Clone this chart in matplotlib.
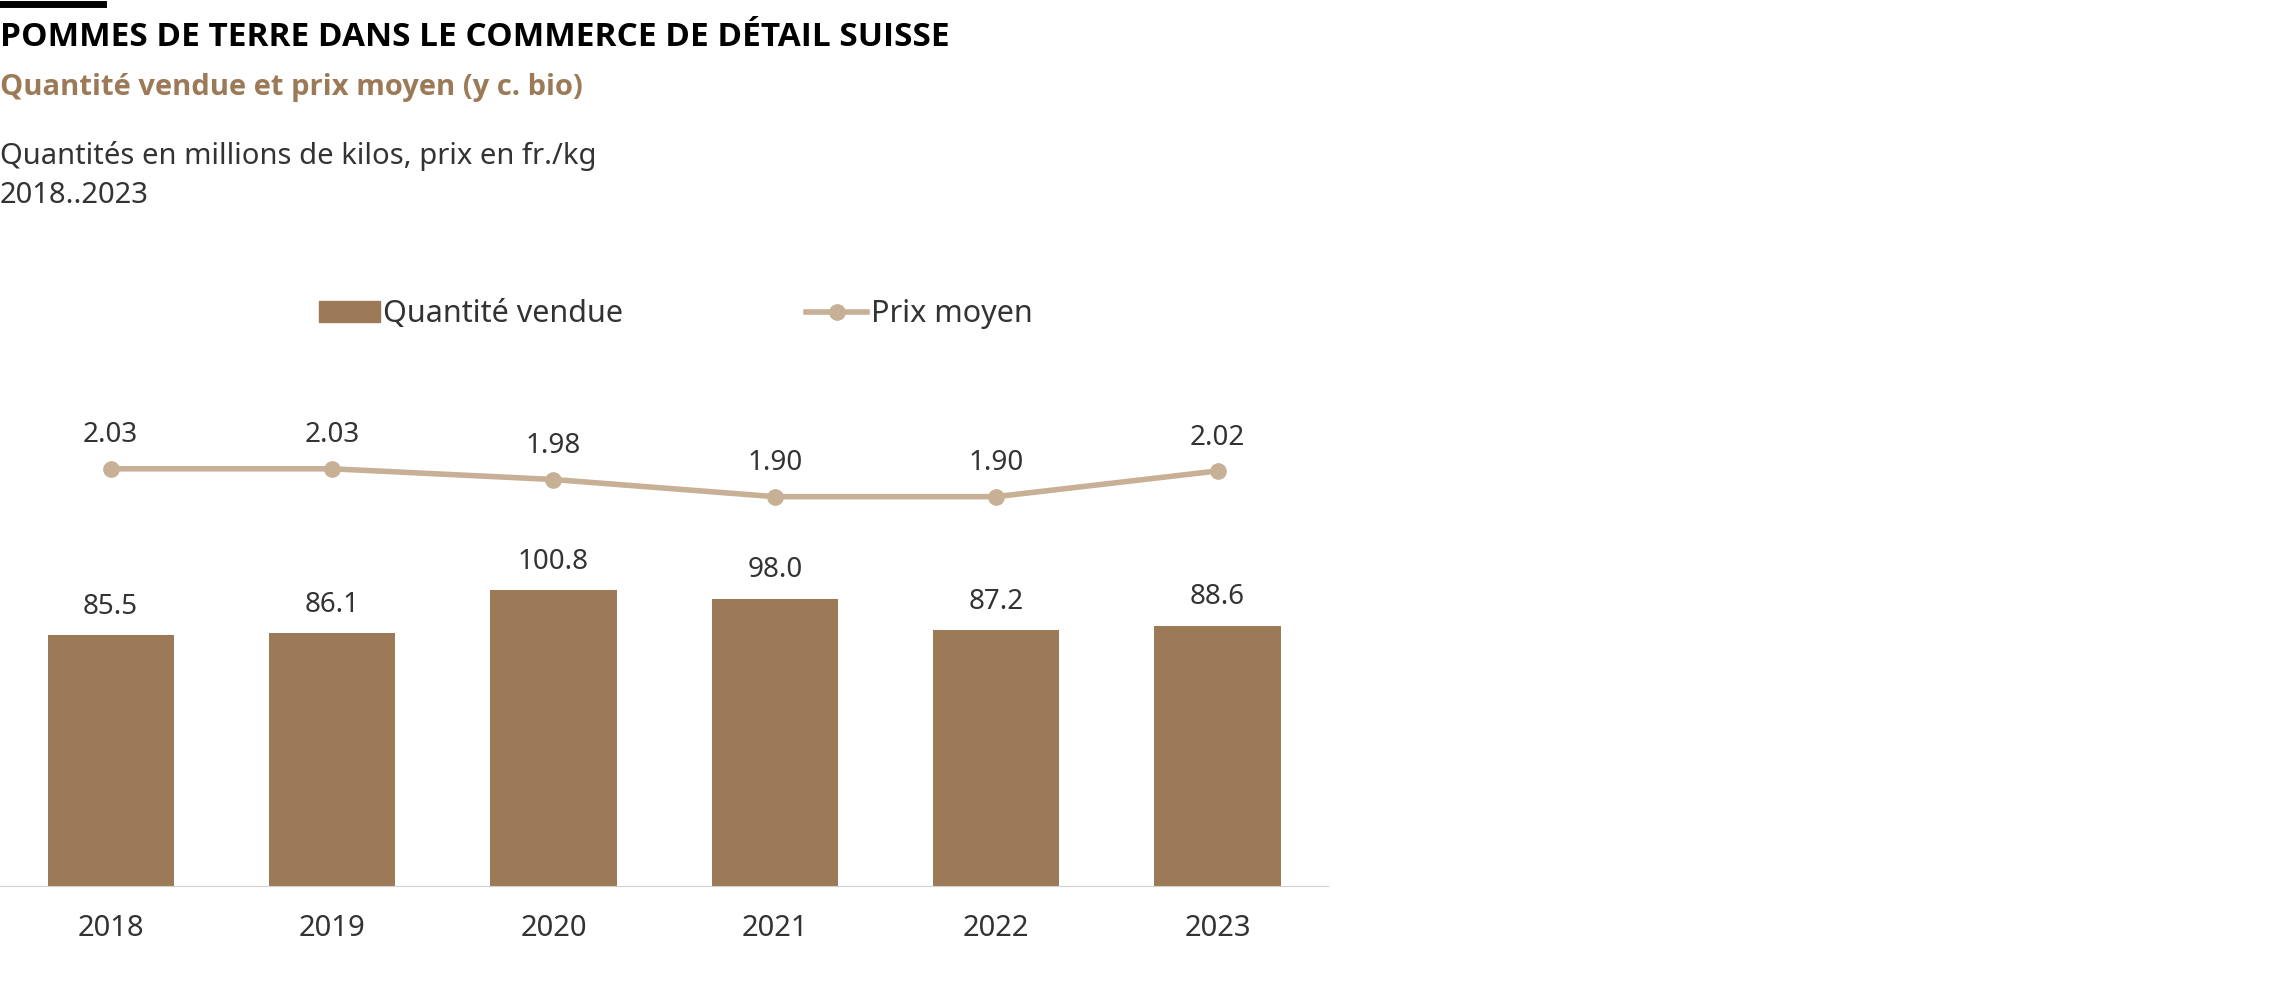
import matplotlib.pyplot as plt
from matplotlib.lines import Line2D
from matplotlib.patches import Patch

plt.rcParams['font.family'] = 'Noto Sans'

years = ['2018', '2019', '2020', '2021', '2022', '2023']
quantite = [85.5, 86.1, 100.8, 98.0, 87.2, 88.6]
prix = [2.03, 2.03, 1.98, 1.90, 1.90, 2.02]

bar_color = '#9c7a58'
line_color = '#c8b096'
text_color = '#333333'

fig = plt.figure(figsize=(22.9, 9.92), dpi=100)
ax = fig.add_axes([0.0, 0.1065, 0.58, 0.524])
x = list(range(len(years)))
ax.bar(x, quantite, width=0.57, color=bar_color)
for xi, v in zip(x, quantite):
    ax.text(xi, v + 5, f'{v:.1f}', ha='center', va='bottom', fontsize=20, color=text_color)
ax.set_xlim(-0.5, 5.5)
ax.set_ylim(0, 177)
ax.set_xticks(x)
ax.set_xticklabels(years, fontsize=21, color=text_color)
ax.tick_params(axis='x', length=0, pad=20)
ax.set_yticks([])
for s in ['top', 'right', 'left']:
    ax.spines[s].set_visible(False)
ax.spines['bottom'].set_color('#d0d0d0')

ax2 = ax.twinx()
ax2.plot(x, prix, color=line_color, lw=4, marker='o', ms=11)
for xi, v in zip(x, prix):
    ax2.text(xi, v + 0.09, f'{v:.2f}', ha='center', va='bottom', fontsize=20, color=text_color)
ax2.set_ylim(0.082, 2.507)
ax2.set_yticks([])
for s in ax2.spines.values():
    s.set_visible(False)

handles = [Patch(color=bar_color), Line2D([0], [0], color=line_color, lw=4, marker='o', ms=11)]
fig.legend(handles, ['Quantité vendue', 'Prix moyen'], loc='center', bbox_to_anchor=(0.295, 0.683),
           ncol=2, frameon=False, fontsize=22, columnspacing=6, handlelength=2.0, handletextpad=0.1,
           labelcolor=text_color)

fig.add_artist(Line2D([0, 0.045], [0.996, 0.996], color='black', lw=5))
fig.text(0.0, 0.962, 'POMMES DE TERRE DANS LE COMMERCE DE DÉTAIL SUISSE', fontsize=24,
         fontfamily='Open Sans', fontweight='bold', va='center', color='black')
fig.text(0.0, 0.912, 'Quantité vendue et prix moyen (y c. bio)', fontsize=21,
         fontfamily='Open Sans', fontweight='bold', va='center', color=bar_color)
fig.text(0.0, 0.843, 'Quantités en millions de kilos, prix en fr./kg', fontsize=21,
         va='center', color=text_color)
fig.text(0.0, 0.803, '2018..2023', fontsize=21, va='center', color=text_color)

fig.savefig('out.png', dpi=100)
